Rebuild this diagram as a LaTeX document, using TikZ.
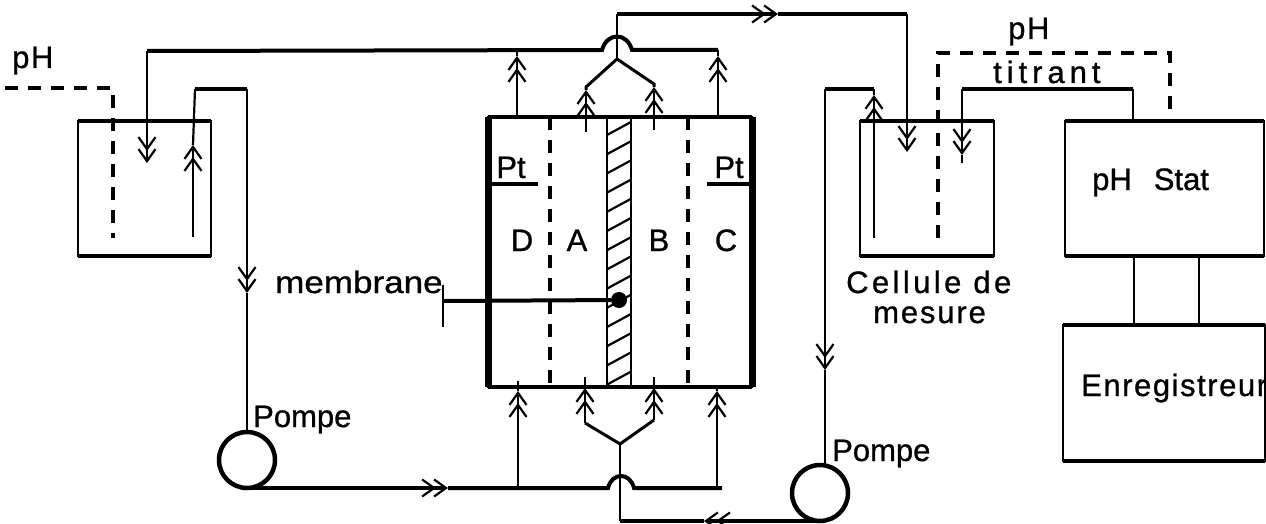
\documentclass[tikz,border=0pt]{standalone}
\usepackage{fontspec}
\setmainfont{Liberation Sans}
\usetikzlibrary{arrows.meta}
\newcommand{\lblfont}{\fontsize{31}{34}\selectfont\addfontfeature{FakeBold=0.9}}
\tikzset{
  thinline/.style={line width=2.2pt},
  tube/.style={line width=4pt},
  wall/.style={line width=7pt},
  dashline/.style={line width=3.2pt,dash pattern=on 13pt off 10pt},
  dbl/.style={-{Straight Barb[length=12pt,width=17pt,line width=2.2pt,sep=-3pt] Straight Barb[length=12pt,width=17pt,line width=2.2pt]}},
  tank/.style={draw,line width=2.4pt,inner sep=0,outer sep=0},
  pump/.style={draw,circle,minimum size=56pt,line width=4.5pt,inner sep=0,outer sep=0},
  lbl/.style={inner sep=0,anchor=base west,font=\lblfont},
  spaced/.style={inner sep=0,anchor=base west,font=\lblfont\addfontfeature{LetterSpace=#1}},
  wide/.style={inner sep=0,anchor=base west,font=\lblfont\addfontfeature{FakeStretch=#1}},
  letter/.style={inner sep=0,anchor=base,font=\lblfont}
}
\begin{document}
\begin{tikzpicture}[x=1pt,y=-1pt]
  \useasboundingbox (0,0) rectangle (1266,524);

  \node[tank,minimum width=133pt,minimum height=135pt] (tankL) at (144.5,188.5) {};
  \node[tank,minimum width=134pt,minimum height=135pt] (tankR) at (927,188.5) {};
  \node[tank,minimum width=199pt,minimum height=135pt] (phstat) at (1164.5,188.5) {};
  \node[tank,minimum width=202pt,minimum height=136pt] (recorder) at (1164,393) {};
  \node[tank,minimum width=264pt,minimum height=270pt] (cell) at (620,252) {};
  \node[tank,minimum width=24pt,minimum height=270pt] (memb) at (619,252) {};
  \node[pump] (pumpL) at (247,460) {};
  \node[pump] (pumpR) at (820,493) {};
  \node[fill,circle,minimum size=16pt,inner sep=0] (dot) at (619,300) {};

  \draw[tube] (tankL.north west) -- (tankL.north east);
  \draw[tube] (tankL.south west) -- (tankL.south east);
  \draw[tube] (tankR.north west) -- (tankR.north east);
  \draw[tube] (tankR.south west) -- (tankR.south east);
  \draw[tube] (phstat.north west) -- (phstat.north east);
  \draw[tube] (phstat.south west) -- (phstat.south east);
  \draw[tube] (recorder.north west) -- (recorder.north east);
  \draw[tube] (recorder.south west) -- (recorder.south east);
  \draw[tube] (cell.north west) -- (cell.north east);
  \draw[tube] (cell.south west) -- (cell.south east);
  \draw[wall] (cell.north west) -- (cell.south west);
  \draw[wall] (cell.north east) -- (cell.south east);

  \foreach \y in {135,154.2,...,386}
    \draw[thinline] (607,\y) -- (631,\y-13);

  \coordinate (dashDA) at (550,117);
  \coordinate (dashDB) at (550,387);
  \coordinate (dashBA) at (688,117);
  \coordinate (dashBB) at (688,387);
  \draw[dashline] (dashDA) -- (dashDB);
  \draw[dashline] (dashBA) -- (dashBB);

  \coordinate (ptL) at (538,184);
  \coordinate (ptR) at (707,184);
  \draw[tube] (ptL) -- (ptL -| cell.west);
  \draw[tube] (ptR) -- (ptR -| cell.east);

  \coordinate (pointer) at (443,301);
  \coordinate (pointerA) at (443,285);
  \coordinate (pointerB) at (443,327);
  \draw[tube] (pointer) -- (dot);
  \draw[thinline] (pointerA) -- (pointerB);

  \coordinate (phLa) at (5,88);
  \coordinate (phLb) at (113,88);
  \coordinate (phLc) at (113,238);
  \draw[dashline] (phLa) -- (phLb) -- (phLc);

  \coordinate (hopTa) at (602,50);
  \coordinate (hopTb) at (632,50);
  \coordinate (retL) at (147,51);
  \coordinate (tipRetL) at (147,163);
  \coordinate (outTL) at (517,50);
  \coordinate (outTR) at (718,50);
  \draw[tube] (outTR) -- (hopTb) .. controls (627,32) and (607,32) .. (hopTa) -- (retL);
  \draw[thinline,dbl] (retL) -- (tipRetL);
  \coordinate (tipOutTL) at (517,56);
  \coordinate (tipOutTR) at (718,56);
  \draw[thinline,dbl] (outTL |- cell.north) -- (tipOutTL);
  \draw[thinline] (tipOutTL) -- (outTL);
  \draw[thinline,dbl] (outTR |- cell.north) -- (tipOutTR);
  \draw[thinline] (tipOutTR) -- (outTR);

  \coordinate (forkT) at (617,59);
  \coordinate (forkTL) at (586,87);
  \coordinate (forkTR) at (654,84);
  \coordinate (inTL) at (586,132);
  \coordinate (inTR) at (654,130);
  \coordinate (tipTL) at (586,90);
  \coordinate (tipTR) at (654,87);
  \draw[thinline,dbl] (inTL) -- (tipTL);
  \draw[thinline,dbl] (inTR) -- (tipTR);
  \draw[tube,line width=3pt] (tipTL) -- (forkTL) -- (forkT) -- (forkTR) -- (tipTR);

  \coordinate (topA) at (617,14);
  \coordinate (tipTop) at (778,14);
  \coordinate (topB) at (907,14);
  \coordinate (tipTop2) at (907,152);
  \draw[thinline] (forkT) -- (topA);
  \draw[tube,dbl] (topA) -- (tipTop);
  \draw[tube] (tipTop) -- (topB);
  \draw[thinline,dbl] (topB) -- (tipTop2);

  \coordinate (feedA) at (193,237);
  \coordinate (tipFeed) at (193,145);
  \coordinate (feedB) at (195,89);
  \coordinate (feedC) at (247,89);
  \coordinate (tipFeed2) at (247,293);
  \draw[thinline,dbl] (feedA) -- (tipFeed);
  \draw[thinline] (tipFeed) -- (feedB);
  \draw[tube] (feedB) -- (feedC);
  \draw[thinline,dbl] (feedC) -- (tipFeed2);
  \draw[thinline] (tipFeed2) -- (pumpL.north);

  \coordinate (tipBot) at (448,488);
  \coordinate (hopBa) at (608,488);
  \coordinate (hopBb) at (634,488);
  \coordinate (botEnd) at (722,488);
  \draw[tube,dbl] (pumpL.south) -- (tipBot);
  \draw[tube] (tipBot) -- (hopBa) .. controls (612,472) and (630,472) .. (hopBb) -- (botEnd);
  \coordinate (inBL) at (518,488);
  \coordinate (inBR) at (717,488);
  \coordinate (tipBL) at (518,391);
  \coordinate (tipBR) at (717,391);
  \coordinate (endBL) at (518,381);
  \coordinate (endBR) at (717,385);
  \draw[thinline,dbl] (inBL) -- (tipBL);
  \draw[thinline] (tipBL) -- (endBL);
  \draw[thinline,dbl] (inBR) -- (tipBR);
  \draw[thinline] (tipBR) -- (endBR);

  \coordinate (forkB) at (620,444);
  \coordinate (forkBL) at (585,423);
  \coordinate (forkBR) at (654,420);
  \coordinate (tipFL) at (585,388);
  \coordinate (tipFR) at (654,388);
  \coordinate (endFL) at (585,377);
  \coordinate (endFR) at (654,377);
  \draw[tube,line width=3pt] (forkBL) -- (forkB) -- (forkBR);
  \draw[thinline,dbl] (forkBL) -- (tipFL);
  \draw[thinline] (tipFL) -- (endFL);
  \draw[thinline,dbl] (forkBR) -- (tipFR);
  \draw[thinline] (tipFR) -- (endFR);

  \coordinate (retB) at (620,521);
  \coordinate (tipRet) at (704,521);
  \draw[tube,dbl] (pumpR.south) -- (tipRet);
  \draw[tube] (tipRet) -- (retB);
  \draw[thinline] (retB) -- (forkB);

  \coordinate (riseA) at (874,238);
  \coordinate (tipRise) at (874,95);
  \coordinate (riseB) at (874,89);
  \coordinate (riseC) at (825,89);
  \coordinate (tipRise2) at (825,370);
  \draw[thinline,dbl] (riseA) -- (tipRise);
  \draw[thinline] (tipRise) -- (riseB);
  \draw[tube] (riseB) -- (riseC);
  \draw[thinline,dbl] (riseC) -- (tipRise2);
  \draw[thinline] (tipRise2) -- (riseC |- pumpR.north);

  \coordinate (titA) at (1133,89);
  \coordinate (titB) at (962,89);
  \coordinate (tipTit) at (962,155);
  \coordinate (titEnd) at (962,163);
  \draw[thinline] (titA |- phstat.north) -- (titA);
  \draw[tube] (titA) -- (titB);
  \draw[thinline,dbl] (titB) -- (tipTit);
  \draw[thinline] (tipTit) -- (titEnd);

  \coordinate (phRa) at (938,238);
  \coordinate (phRb) at (938,53);
  \coordinate (phRc) at (1170,53);
  \draw[dashline] (phRa) -- (phRb) -- (phRc) -- (phRc |- phstat.north);

  \coordinate (linkA) at (1134,290);
  \coordinate (linkB) at (1199,290);
  \draw[thinline] (linkA |- phstat.south) -- (linkA |- recorder.north);
  \draw[thinline] (linkB |- phstat.south) -- (linkB |- recorder.north);

  \node[spaced=5] (phLeft) at (12,68) {pH};
  \node[spaced=5] (phRight) at (1008,39) {pH};
  \node[spaced=16] (titrant) at (993,83) {titrant};
  \node[lbl] (phstatlbl) at (1092,190) {pH\hspace{22pt}Stat};
  \node[spaced=5] (reclbl) at (1081,396) {Enregistreur};
  \node[wide=1.13] (memblbl) at (275,293) {membrane};
  \node[spaced=11] (celllbl) at (846,293) {Cellule de};
  \node[spaced=6] (mesurelbl) at (873,323) {mesure};
  \node[lbl] (pompeL) at (253,427) {Pompe};
  \node[lbl] (pompeR) at (832,461) {Pompe};
  \node[letter] (ptLlbl) at (511,178) {Pt};
  \node[letter] (ptRlbl) at (729,178) {Pt};
  \node[letter] (zoneD) at (522,251) {D};
  \node[letter] (zoneA) at (577,251) {A};
  \node[letter] (zoneB) at (659,251) {B};
  \node[letter] (zoneC) at (726,251) {C};
\end{tikzpicture}
\end{document}
